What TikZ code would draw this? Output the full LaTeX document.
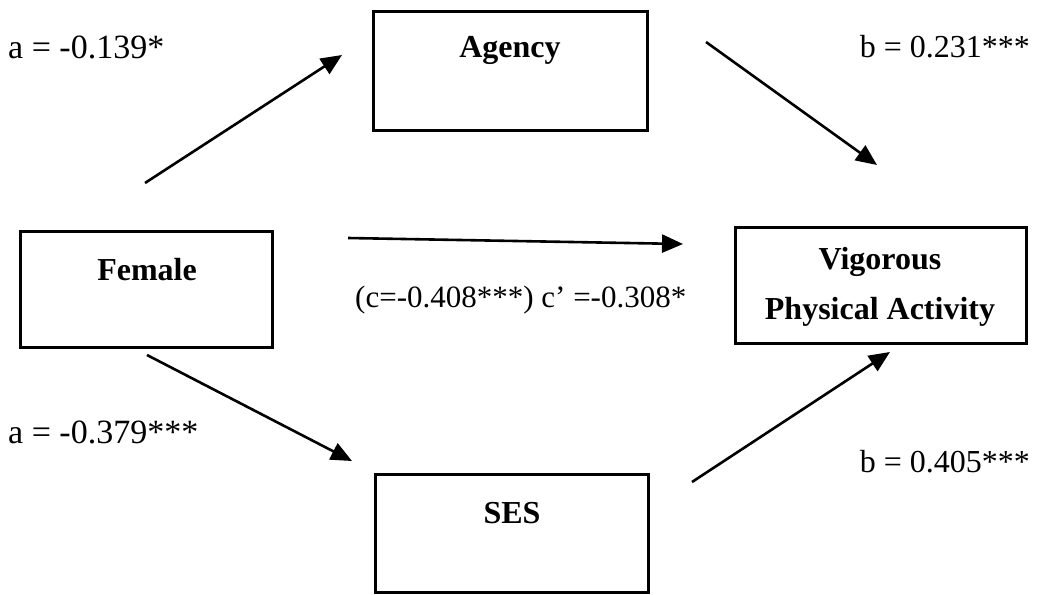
\documentclass[tikz,border=0pt]{standalone}
\usepackage{fontspec}
\setmainfont{Liberation Serif}
\usetikzlibrary{arrows.meta}
\begin{document}
\begin{tikzpicture}[x=1pt,y=-1pt,
  varbox/.style={draw=black,line width=3pt,inner sep=0pt},
  varname/.style={font=\fontsize{32}{50}\selectfont\bfseries,align=center,inner sep=0pt},
  coef/.style={font=\fontsize{32}{38}\selectfont,inner sep=0pt},
  path/.style={line width=2.6pt,-{Triangle[length=21pt,width=18pt]}}]
\useasboundingbox (0,0) rectangle (1038,594);
% variable boxes
\node[varbox,minimum width=274pt,minimum height=118pt] (agency) at (510,71) {};
\node[varbox,minimum width=252pt,minimum height=116pt] (female) at (146,289) {};
\node[varbox,minimum width=291pt,minimum height=116pt] (vpa) at (880.5,285) {};
\node[varbox,minimum width=273pt,minimum height=118pt] (ses) at (511.5,533) {};
% box titles
\node[varname] (agencyT) at (510,50) {Agency};
\node[varname] (femaleT) at (147,270) {Female};
\node[varname] (vpaT) at (880,287) {Vigorous\\Physical Activity};
\node[varname] (sesT) at (512,513) {SES};
% arrow end points
\coordinate (fa0) at (145,183);
\coordinate (fa1) at (342,55);
\coordinate (av0) at (706,42);
\coordinate (av1) at (877,165);
\coordinate (fv0) at (348,238);
\coordinate (fv1) at (683,244);
\coordinate (fs0) at (147,355);
\coordinate (fs1) at (352,461);
\coordinate (sv0) at (692,482);
\coordinate (sv1) at (890,352);
\draw[path] (fa0) -- (fa1);
\draw[path] (av0) -- (av1);
\draw[path] (fv0) -- (fv1);
\draw[path] (fs0) -- (fs1);
\draw[path] (sv0) -- (sv1);
% path coefficients
\node[coef,font=\fontsize{34}{40}\selectfont,anchor=west] (a1) at (8,47) {a = -0.139*};
\node[coef,anchor=east] (b1) at (1030,47) {b = 0.231***};
\node[coef,font=\fontsize{31}{38}\selectfont,anchor=west] (c) at (355,300) {(c=-0.408***) c’ =-0.308*};
\node[coef,font=\fontsize{34}{40}\selectfont,anchor=west] (a2) at (8,432) {a = -0.379***};
\node[coef,anchor=east] (b2) at (1030,462) {b = 0.405***};
\end{tikzpicture}
\end{document}
